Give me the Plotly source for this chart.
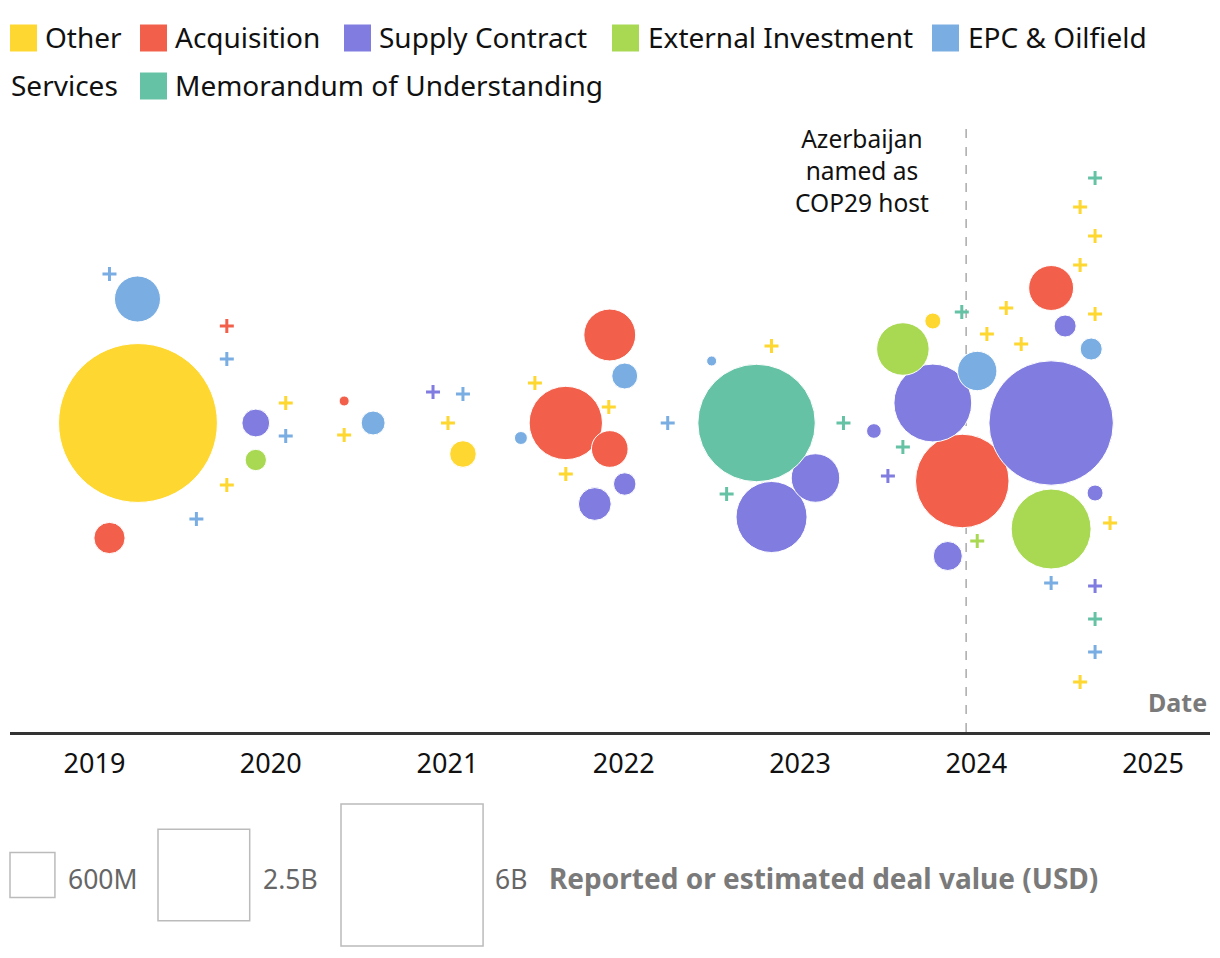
import plotly.graph_objects as go

# ---------------- data ----------------
categories = ["Other", "Acquisition", "Supply Contract", "External Investment",
              "EPC & Oilfield Services", "Memorandum of Understanding"]
colors = ["#FED730", "#F2604B", "#807CE0", "#A9D853", "#7AAEE3", "#66C2A5"]

# deal values in billions USD (None = value not reported)
other_dates = ["2019-04-01", "2019-10-02", "2020-02-01", "2020-06-01", "2021-01-02", "2021-02-02",
               "2021-07-01", "2021-09-03", "2021-12-01", "2022-11-03", "2023-10-03", "2024-01-23",
               "2024-03-03", "2024-04-03", "2024-08-03", "2024-08-03", "2024-08-03", "2024-09-03",
               "2024-09-03", "2024-10-04"]
other_values = [7.5, None, None, None, None, 0.21,
                None, None, None, None, 0.076, None,
                None, None, None, None, None, None,
                None, None]
other_offsets = [0, -62, 20, -12, 0, -31,
                 40, -51, 16, 77, 102, 89,
                 115, 79, 216, 158, -259, 187,
                 109, -100]

acq_dates = ["2019-02-01", "2019-10-02", "2020-06-01", "2021-09-03", "2021-12-03", "2021-12-03",
             "2023-12-03", "2024-06-04"]
acq_values = [0.29, None, 0.03, 1.6, 0.8, 0.4, 2.6, 0.6]
acq_offsets = [-115, 97, 22, 0, 88, -26, -58, 135]

supply_dates = ["2019-12-01", "2020-12-02", "2021-11-02", "2022-01-03", "2022-11-03", "2023-02-02",
                "2023-06-03", "2023-07-02", "2023-10-03", "2023-11-03", "2024-06-04", "2024-07-03",
                "2024-09-03", "2024-09-03"]
supply_values = [0.23, None, 0.32, 0.15, 1.5, 0.7,
                 0.064, None, 1.8, 0.25, 4.6, 0.144,
                 0.076, None]
supply_offsets = [0, 31, -81, -61, -94, -55,
                  -8, -53, 20, -133, 0, 97,
                  -70, -163]

ext_dates = ["2019-12-01", "2023-08-02", "2024-01-03", "2024-06-04"]
ext_values = [0.135, 0.82, None, 1.9]
ext_offsets = [-37, 74, -118, -106]

epc_dates = ["2019-02-01", "2019-03-31", "2019-07-31", "2019-10-02", "2020-02-01", "2020-07-31",
             "2021-02-02", "2021-06-02", "2022-01-03", "2022-04-02", "2022-07-02", "2024-01-03",
             "2024-06-04", "2024-08-26", "2024-09-03"]
epc_values = [None, 0.63, None, None, None, 0.17,
              None, 0.05, 0.2, None, 0.03, 0.46,
              None, 0.144, None]
epc_offsets = [149, 124, -96, 64, -13, 0,
               29, -15, 47, 0, 62, 52,
               -160, 74, -229]

mou_dates = ["2022-08-02", "2022-10-03", "2023-04-01", "2023-08-02", "2023-12-02", "2024-09-03",
             "2024-09-03"]
mou_values = [None, 4.1, None, None, None, None, None]
mou_offsets = [-71, 0, 0, -24, 111, 245, -196]

year_ticks = ["2019", "2020", "2021", "2022", "2023", "2024", "2025"]
size_legend_values = [0.6, 2.5, 6.0]
size_legend_labels = ["600M", "2.5B", "6B"]
cop29_date = "2023-12-11"

series = [
    (other_dates, other_values, other_offsets),
    (acq_dates, acq_values, acq_offsets),
    (supply_dates, supply_values, supply_offsets),
    (ext_dates, ext_values, ext_offsets),
    (epc_dates, epc_values, epc_offsets),
    (mou_dates, mou_values, mou_offsets),
]

# ---------------- figure ----------------
# the page body adds an 8px margin, so the figure is drawn 8px in from the corner
W, H = 1204, 942
ML, MR, MT, MB = 2, 2, 102, 218
PW, PH = W - ML - MR, H - MT - MB
DIAM_PER_SQRT_B = 58.0  # px diameter for sqrt(1B)
FONT = "Noto Sans"
PAGE_OFF = 8


def px_x(px):
    return (px - PAGE_OFF - ML) / PW


def px_y(py):
    return (H - MB - (py - PAGE_OFF)) / PH


fig = go.Figure()

# circles (reported values); plotly area mode: diameter = sqrt(2*v/sizeref)
for cat, col, (d, v, o) in zip(categories, colors, series):
    xs = [a for a, b in zip(d, v) if b is not None]
    vs = [b for b in v if b is not None]
    ys = [c for c, b in zip(o, v) if b is not None]
    if xs:
        fig.add_trace(go.Scatter(
            x=xs, y=ys, mode="markers", name=cat, showlegend=False,
            marker=dict(size=vs, sizemode="area", sizeref=2 / DIAM_PER_SQRT_B ** 2,
                        color=col, opacity=1, line=dict(color="white", width=1)),
            hovertemplate="%{x|%b %Y}<br>%{marker.size}B<extra>" + cat + "</extra>",
        ))

# crosses (no reported value)
for cat, col, (d, v, o) in zip(categories, colors, series):
    xs = [a for a, b in zip(d, v) if b is None]
    ys = [c for c, b in zip(o, v) if b is None]
    if xs:
        fig.add_trace(go.Scatter(
            x=xs, y=ys, mode="markers", name=cat, showlegend=False,
            marker=dict(symbol="cross-thin", size=10, color=col,
                        line=dict(color=col, width=3)),
            hovertemplate="%{x|%b %Y}<extra>" + cat + "</extra>",
        ))

shapes = []
annotations = []

# COP29 reference line
shapes.append(dict(type="line", xref="x", yref="paper", x0=cop29_date, x1=cop29_date,
                   y0=0, y1=px_y(128), line=dict(color="#aaaaaa", width=1.5, dash="dash"),
                   layer="below"))
annotations.append(dict(x=cop29_date, y=px_y(170), xref="x", yref="paper",
                        text="Azerbaijan<br>named as<br>COP29 host", showarrow=False,
                        xanchor="right", yanchor="middle", align="center", xshift=-35,
                        font=dict(family=FONT, size=24.5, color="#111")))

# axis title "Date"
annotations.append(dict(x=px_x(1209), y=px_y(702), xref="paper", yref="paper", text="<b>Date</b>",
                        showarrow=False, xanchor="right", yanchor="middle",
                        font=dict(family=FONT, size=25, color="#7a7a7a")))

# colour legend (flowing, wraps like the original)
legend_items = [
    # (square left px, text left px, centre y px, colour index or None, text)
    (10, 43, 38, 0, "Other"),
    (140, 173, 38, 1, "Acquisition"),
    (344, 377, 38, 2, "Supply Contract"),
    (612, 646, 38, 3, "External Investment"),
    (932, 966, 38, 4, "EPC & Oilfield"),
    (None, 9, 86, None, "Services"),
    (140, 173, 86, 5, "Memorandum of Understanding"),
]
SQ = 27
for sq_left, tx_left, cy, ci, label in legend_items:
    if sq_left is not None:
        shapes.append(dict(type="rect", xref="paper", yref="paper",
                           x0=px_x(sq_left), x1=px_x(sq_left + SQ),
                           y0=px_y(cy + SQ / 2), y1=px_y(cy - SQ / 2),
                           fillcolor=colors[ci], line=dict(width=0)))
    annotations.append(dict(x=px_x(tx_left), y=px_y(cy - 1), xref="paper", yref="paper",
                            text=label, showarrow=False, xanchor="left", yanchor="middle",
                            font=dict(family=FONT, size=28, color="#111")))

# size legend
box_lefts = [10, 158, 341]
label_lefts = [66, 261, 493]
SIZE_CY = 875
for val, lab, bl, ll in zip(size_legend_values, size_legend_labels, box_lefts, label_lefts):
    side = DIAM_PER_SQRT_B * val ** 0.5
    shapes.append(dict(type="rect", xref="paper", yref="paper",
                       x0=px_x(bl), x1=px_x(bl + side),
                       y0=px_y(SIZE_CY + side / 2), y1=px_y(SIZE_CY - side / 2),
                       fillcolor="rgba(0,0,0,0)", line=dict(color="#bbbbbb", width=1.5)))
    annotations.append(dict(x=px_x(ll), y=px_y(SIZE_CY + 4), xref="paper", yref="paper",
                            text=lab, showarrow=False, xanchor="left", yanchor="middle",
                            font=dict(family=FONT, size=26.5, color="#666")))
annotations.append(dict(x=px_x(547), y=px_y(SIZE_CY + 3), xref="paper", yref="paper",
                        text="<b>Reported or estimated deal value (USD)</b>", showarrow=False,
                        xanchor="left", yanchor="middle",
                        font=dict(family=FONT, size=28, color="#7a7a7a")))

fig.update_layout(
    width=W, height=H,
    margin=dict(l=ML, r=MR, t=MT, b=MB, pad=0),
    paper_bgcolor="white", plot_bgcolor="white",
    font=dict(family=FONT, color="#111"),
    showlegend=False,
    shapes=shapes, annotations=annotations,
    xaxis=dict(type="date", range=["2018-07-10", "2025-04-29"],
               tickvals=[y + "-01-01" for y in year_ticks], ticktext=year_ticks,
               showgrid=False, zeroline=False, showline=True, linecolor="#333",
               linewidth=2.5, ticks="", tickfont=dict(family=FONT, size=27, color="#111"),
               ticklabelstandoff=6, fixedrange=True),
    yaxis=dict(range=[-309, 313], visible=False, fixedrange=True),
)

fig.write_html("out.html")
